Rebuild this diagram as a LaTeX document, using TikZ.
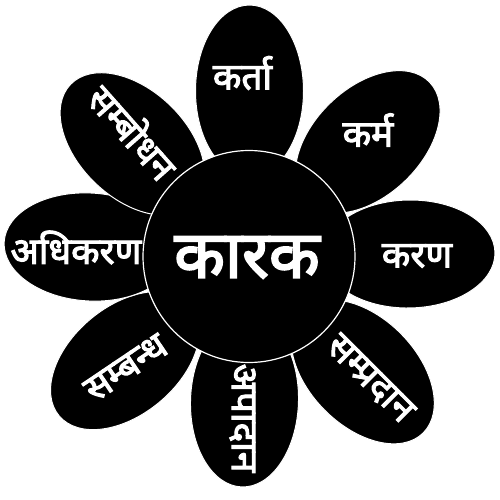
\documentclass[tikz,border=0pt]{standalone}
\usepackage{fontspec}
\newfontfamily\dev[Script=Devanagari, FakeBold=2.8]{Noto Sans}
\usetikzlibrary{shapes.geometric}
\tikzset{
  petal/.style={ellipse, fill=black, draw=white, line width=1pt, inner sep=0pt,
    minimum width=172pt, minimum height=108pt},
  hub/.style={circle, fill=black, draw=white, line width=1.2pt, inner sep=0pt, minimum size=212pt},
  lbl/.style={text=white, inner sep=0pt, font=\dev\fontsize{37}{40}\selectfont},
  biglbl/.style={text=white, inner sep=0pt, font=\dev\fontsize{66}{70}\selectfont}
}
\begin{document}
\begin{tikzpicture}[x=1pt,y=-1pt]
\useasboundingbox (0,0) rectangle (500,500);
\fill[white] (0,0) rectangle (500,500);
% petals
\node[petal, rotate=90]    (p1) at (249.5,91) {};
\node[petal, rotate=44]    (p2) at (367.7,141.9) {};
\node[petal, rotate=1]     (p3) at (409,254) {};
\node[petal, rotate=-45.4] (p4) at (362.7,371.8) {};
\node[petal, rotate=88.2]  (p5) at (244.5,401) {};
\node[petal, rotate=40]    (p6) at (125,360.6) {};
\node[petal, rotate=-3.4]  (p7) at (90,247) {};
\node[petal, rotate=-44]   (p8) at (132.5,144) {};
% hub
\node[hub] (hub) at (249,256.5) {};
% labels
\node[biglbl] (t0) at (247,257.5) {कारक};
\node[lbl] (t1) at (242.5,73) {कर्ता};
\node[lbl] (t2) at (368,130) {कर्म};
\node[lbl] (t3) at (417,256) {करण};
\node[lbl, rotate=-45] (t4) at (370,379) {सम्प्रदान};
\node[lbl, rotate=-90] (t5) at (242.5,418) {अपादान};
\node[lbl, rotate=34] (t6) at (126,368) {सम्बन्ध};
\node[lbl] (t7) at (76,247.5) {अधिकरण};
\node[lbl, rotate=-48.5] (t8) at (134,131) {सम्बोधन};
\end{tikzpicture}
\end{document}
